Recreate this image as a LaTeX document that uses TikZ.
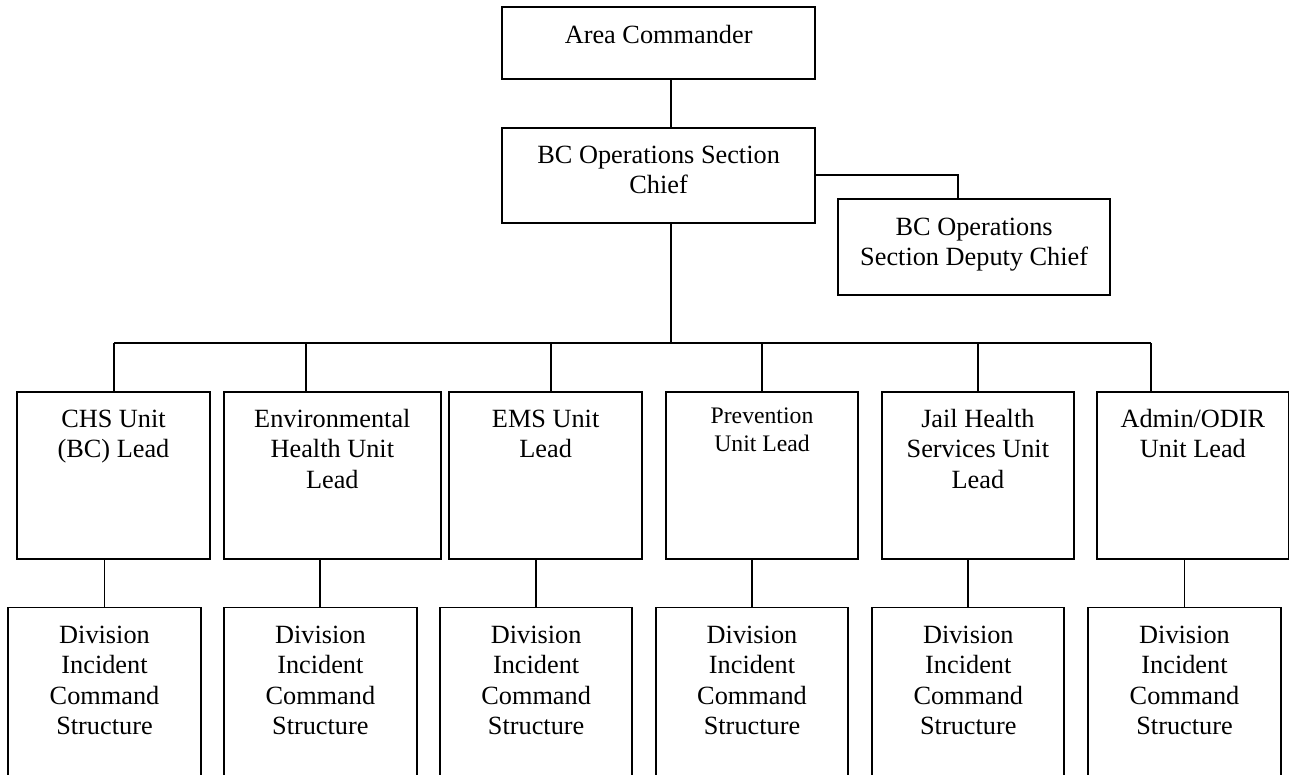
\documentclass[tikz,border=0pt]{standalone}
\usepackage{fontspec}
\setmainfont{Liberation Serif}
\usetikzlibrary{calc}
\tikzset{
  orgrect/.style={draw=black, line width=0.9pt, rectangle, inner sep=0pt, outer sep=0pt, fill=white},
  orgtext/.style={inner sep=0pt, outer sep=0pt},
  link/.style={draw=black, line width=0.9pt}
}
\newcommand\bigfont{\fontsize{13.15pt}{15.25pt}\selectfont}
\newcommand\smallfont{\fontsize{11.85pt}{14.35pt}\selectfont}
% #1 name, #2 x1, #3 y1, #4 x2, #5 y2, #6 font, #7 first baseline offset, #8 text
\newcommand\orgbox[8]{%
  \pgfmathsetlengthmacro\orgbw{(#4-#2)*0.5pt-4pt}%
  \node[orgrect, anchor=north west, minimum width={(#4-#2)*0.5pt}, minimum height={(#5-#3)*0.5pt}] (#1) at (#2,#3) {};
  \node[orgtext, anchor=base] (#1-t) at ($(#1.north)+(0,#7)$) {\parbox[t]{\orgbw}{#6\centering #8}};
}
\begin{document}
\begin{tikzpicture}[x=0.5pt,y=-0.5pt]
\clip (0,0) rectangle (1289,775);
\fill[white] (0,0) rectangle (1289,775);

\orgbox{ac}{502.3}{7.3}{815}{79.3}{\bigfont}{36}{Area Commander}
\orgbox{chief}{502.3}{127.7}{815}{223.3}{\bigfont}{35.5}{BC Operations Section\\Chief}
\orgbox{dep}{838.3}{199.3}{1110}{295}{\bigfont}{36}{BC Operations\\Section Deputy Chief}

\orgbox{u1}{17}{391.7}{210}{559.3}{\bigfont}{35.5}{CHS Unit\\(BC) Lead}
\orgbox{u2}{224}{391.7}{440.7}{559.3}{\bigfont}{35.5}{Environmental\\Health Unit\\Lead}
\orgbox{u3}{449.3}{391.7}{642}{559.3}{\bigfont}{35.5}{EMS Unit\\Lead}
\orgbox{u4}{665.7}{391.7}{858.3}{559.3}{\smallfont}{31.3}{Prevention\\Unit Lead}
\orgbox{u5}{881.7}{391.7}{1074}{559.3}{\bigfont}{35.5}{Jail Health\\Services Unit\\Lead}
\orgbox{u6}{1097.3}{391.7}{1288.5}{559.3}{\bigfont}{35.5}{Admin/ODIR\\Unit Lead}

\orgbox{v1}{8.3}{607.5}{200.7}{800}{\bigfont}{35.5}{Division\\Incident\\Command\\Structure}
\orgbox{v2}{224}{607.5}{416.7}{800}{\bigfont}{35.5}{Division\\Incident\\Command\\Structure}
\orgbox{v3}{440}{607.5}{632.3}{800}{\bigfont}{35.5}{Division\\Incident\\Command\\Structure}
\orgbox{v4}{655.7}{607.5}{848.3}{800}{\bigfont}{35.5}{Division\\Incident\\Command\\Structure}
\orgbox{v5}{872.3}{607.5}{1064.3}{800}{\bigfont}{35.5}{Division\\Incident\\Command\\Structure}
\orgbox{v6}{1088.3}{607.5}{1280.7}{800}{\bigfont}{35.5}{Division\\Incident\\Command\\Structure}

% junction coordinates
\coordinate (hub) at (671,343);
\coordinate (dj) at (958.3,175);
\coordinate (b1) at (114,343);
\coordinate (b2) at (305.7,343);
\coordinate (b3) at (550.7,343);
\coordinate (b4) at (762,343);
\coordinate (b5) at (977.7,343);
\coordinate (b6) at (1150.7,343);

\draw[link] (ac.south -| hub) -- (chief.north -| hub);
\draw[link] (chief.south -| hub) -- (hub);
\draw[link] (chief.east |- dj) -- (dj) -- (dep.north -| dj);
\draw[link] (b1) -- (b6);
\foreach \i in {1,...,6}{
  \draw[link] (b\i) -- (u\i.north -| b\i);
  \draw[link] (u\i.south -| v\i.north) -- (v\i.north);
}
\end{tikzpicture}
\end{document}
